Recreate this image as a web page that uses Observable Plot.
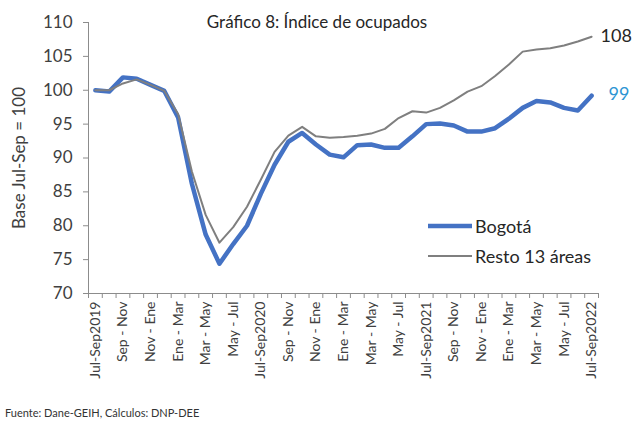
<!DOCTYPE html>
<html><head><meta charset="utf-8">
<script src="https://cdn.jsdelivr.net/npm/d3@7"></script>
<script src="https://cdn.jsdelivr.net/npm/@observablehq/plot@0.6"></script>
<style>
body{margin:0;background:#fff;font-family:Lato,"Open Sans",sans-serif;}
#wrap{position:relative;width:634px;height:424px;overflow:hidden;}
#title{position:absolute;left:0;width:634px;top:11px;text-align:center;font-size:17px;color:#262626;padding-left:0px;}
#legend{position:absolute;left:428px;top:211px;font-size:18px;color:#262626;}
#legend .row{display:flex;align-items:center;height:30px;}
#legend .sw{width:44px;margin-right:3px;}
#foot{position:absolute;left:5px;top:406px;font-size:11px;color:#333;}
</style></head><body>
<div id="wrap">
  <div id="chart"></div>
  <div id="title">Gráfico 8: Índice de ocupados</div>
  <div id="legend"></div>
  <div id="foot">Fuente: Dane-GEIH, Cálculos: DNP-DEE</div>
</div>
<script>
const tickLabels = ["Jul-Sep2019","Sep - Nov","Nov - Ene","Ene - Mar","Mar - May","May - Jul",
  "Jul-Sep2020","Sep - Nov","Nov - Ene","Ene - Mar","Mar - May","May - Jul",
  "Jul-Sep2021","Sep - Nov","Nov - Ene","Ene - Mar","Mar - May","May - Jul","Jul-Sep2022"];
const seriesNames = ["Bogotá","Resto 13 áreas"];
const bogota = [100.0,99.8,101.9,101.7,100.8,99.9,96.0,86.2,78.7,74.4,77.3,80.0,84.7,89.0,92.4,93.7,92.0,90.5,90.1,91.9,92.0,91.5,91.5,93.2,95.0,95.1,94.8,93.9,93.9,94.4,95.8,97.4,98.4,98.2,97.4,97.0,99.2];
const resto = [100.0,100.0,101.0,101.6,100.8,99.9,96.5,88.0,81.6,77.5,79.8,82.8,86.8,90.9,93.3,94.6,93.2,93.0,93.1,93.3,93.6,94.3,95.9,96.9,96.7,97.4,98.5,99.8,100.6,102.1,103.8,105.7,106.0,106.2,106.6,107.2,107.9];
const yTicks = [70,75,80,85,90,95,100,105,110];

const colors = {bog:"#4472c4", resto:"#7f7f7f"};
const n = bogota.length;
const idx = d3.range(n);
const boundaries = d3.range(n + 1).map(i => i - 0.5);
const labelIdx = tickLabels.map((_, k) => k * 2);
const lastB = {i: n - 1, v: bogota[n - 1]};
const lastR = {i: n - 1, v: resto[n - 1]};

const chart = Plot.plot({
  width: 634, height: 398,
  marginLeft: 88, marginRight: 36, marginTop: 22, marginBottom: 105,
  x: {type: "linear", domain: [-0.5, n - 0.5], axis: null},
  y: {domain: [70, 110], axis: null},
  style: {fontFamily: "Lato, 'Open Sans', sans-serif", background: "white", overflow: "visible"},
  marks: [
    Plot.axisY({ticks: yTicks, tickSize: 5, tickPadding: 11, fontSize: 17, stroke: "#8c8c8c", fill: "#404040",
      label: "Base Jul-Sep = 100", labelAnchor: "center", labelArrow: "none", labelOffset: 76}),
    Plot.axisX({ticks: boundaries, tickSize: 5, tickFormat: () => "", stroke: "#8c8c8c", label: null}),
    Plot.axisX({ticks: labelIdx, tickSize: 0, tickPadding: 8, tickRotate: -90, fontSize: 14, fill: "#404040",
      tickFormat: d => tickLabels[Math.round(d / 2)], label: null}),
    Plot.frame({anchor: "left", stroke: "#8c8c8c"}),
    Plot.frame({anchor: "bottom", stroke: "#8c8c8c"}),
    Plot.line(idx, {x: i => i, y: i => bogota[i], stroke: colors.bog, strokeWidth: 4.5, curve: "linear"}),
    Plot.line(idx, {x: i => i, y: i => resto[i], stroke: colors.resto, strokeWidth: 2}),
    Plot.text([lastR], {x: "i", y: "v", text: d => String(Math.round(d.v)), textAnchor: "start", dx: 9, dy: 0, fontSize: 18, fill: "#262626"}),
    Plot.text([lastB], {x: "i", y: "v", text: d => String(Math.round(d.v)), textAnchor: "start", dx: 17, dy: -1, fontSize: 18, fill: "#2e95d3"})
  ]
});
document.getElementById("chart").appendChild(chart);

const leg = document.getElementById("legend");
[[seriesNames[0], colors.bog, 4.5], [seriesNames[1], colors.resto, 2]].forEach(([name, c, w]) => {
  const row = document.createElement("div"); row.className = "row";
  row.innerHTML = `<svg class="sw" width="44" height="10"><line x1="0" x2="44" y1="5" y2="5" stroke="${c}" stroke-width="${w}"/></svg><span>${name}</span>`;
  leg.appendChild(row);
});
</script>
</body></html>
